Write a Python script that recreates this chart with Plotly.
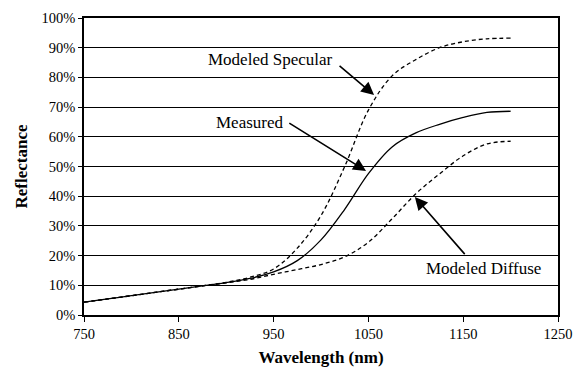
import plotly.graph_objects as go

wavelength = [750, 775, 800, 825, 850, 875, 900, 925, 950, 975, 1000, 1025,
              1050, 1075, 1100, 1125, 1150, 1175, 1200]
measured = [4.3, 5.4, 6.5, 7.6, 8.7, 9.8, 10.9, 12.3, 14.5, 18.3, 25.3, 35.6,
            47.6, 56.6, 61.3, 64.2, 66.5, 68.2, 68.6]
modeled_specular = [4.3, 5.4, 6.5, 7.6, 8.7, 9.8, 11.0, 12.7, 15.5, 22.5, 33.5,
                    50.0, 69.0, 80.5, 86.0, 90.0, 92.0, 93.0, 93.2]
modeled_diffuse = [4.3, 5.4, 6.5, 7.6, 8.7, 9.8, 10.8, 12.0, 13.7, 15.3, 17.0,
                   19.6, 24.5, 32.4, 40.8, 47.5, 53.6, 57.6, 58.5]

x_ticks = [750, 850, 950, 1050, 1150, 1250]
y_ticks = list(range(0, 101, 10))
y_tick_text = [f"{v}%" for v in y_ticks]

FONT = '"Times New Roman", "Liberation Serif", "DejaVu Serif", serif'

fig = go.Figure()
fig.add_trace(go.Scatter(x=wavelength, y=modeled_specular, mode="lines",
                         line=dict(color="black", width=1.3, dash="4px,3px", shape="spline", smoothing=1),
                         name="Modeled Specular"))
fig.add_trace(go.Scatter(x=wavelength, y=modeled_diffuse, mode="lines",
                         line=dict(color="black", width=1.3, dash="4px,3px", shape="spline", smoothing=1),
                         name="Modeled Diffuse"))
fig.add_trace(go.Scatter(x=wavelength, y=measured, mode="lines",
                         line=dict(color="black", width=1.3, shape="spline", smoothing=1),
                         name="Measured"))

# arrows (tail -> head)
arrows = [
    (1018, 84.3, 1056, 74.1),
    (965, 64.9, 1047.5, 48.5),
    (1153, 20.0, 1099, 39.7),
]
for tx, ty, hx, hy in arrows:
    fig.add_annotation(x=hx, y=hy, ax=tx, ay=ty, axref="x", ayref="y",
                       xref="x", yref="y", text="", showarrow=True,
                       arrowhead=2, arrowsize=1.6, arrowwidth=1.6, arrowcolor="black")

labels = [
    ("Modeled Specular", 946, 85.9),
    ("Measured", 925, 64.9),
    ("Modeled Diffuse", 1171, 15.7),
]
for txt, lx, ly in labels:
    fig.add_annotation(x=lx, y=ly, xref="x", yref="y", text=txt, showarrow=False,
                       font=dict(family=FONT, size=17, color="black"),
                       bgcolor="white", borderpad=0)

fig.update_layout(
    width=587, height=381,
    margin=dict(l=84, r=29, t=10, b=66),
    paper_bgcolor="white", plot_bgcolor="white",
    showlegend=False,
    font=dict(family=FONT, color="black", size=14.5),
)
fig.update_xaxes(range=[750, 1250], tickvals=x_ticks, ticks="outside", ticklen=5,
                 tickcolor="black", showgrid=False, zeroline=False,
                 tickfont=dict(family=FONT, size=14.5),
                 showline=True, linecolor="black", linewidth=1.5, mirror=True,
                 title=dict(text="<b>Wavelength (nm)</b>", font=dict(family=FONT, size=17), standoff=10))
fig.update_yaxes(range=[0, 100], tickvals=y_ticks, ticktext=y_tick_text, ticks="outside", ticklen=4,
                 tickcolor="black", showgrid=True, gridcolor="black", gridwidth=1,
                 tickfont=dict(family=FONT, size=14.5),
                 zeroline=False, showline=True, linecolor="black", linewidth=1.5, mirror=True,
                 title=dict(text="<b>Reflectance</b>", font=dict(family=FONT, size=17), standoff=10))

fig.write_html("out.html")
